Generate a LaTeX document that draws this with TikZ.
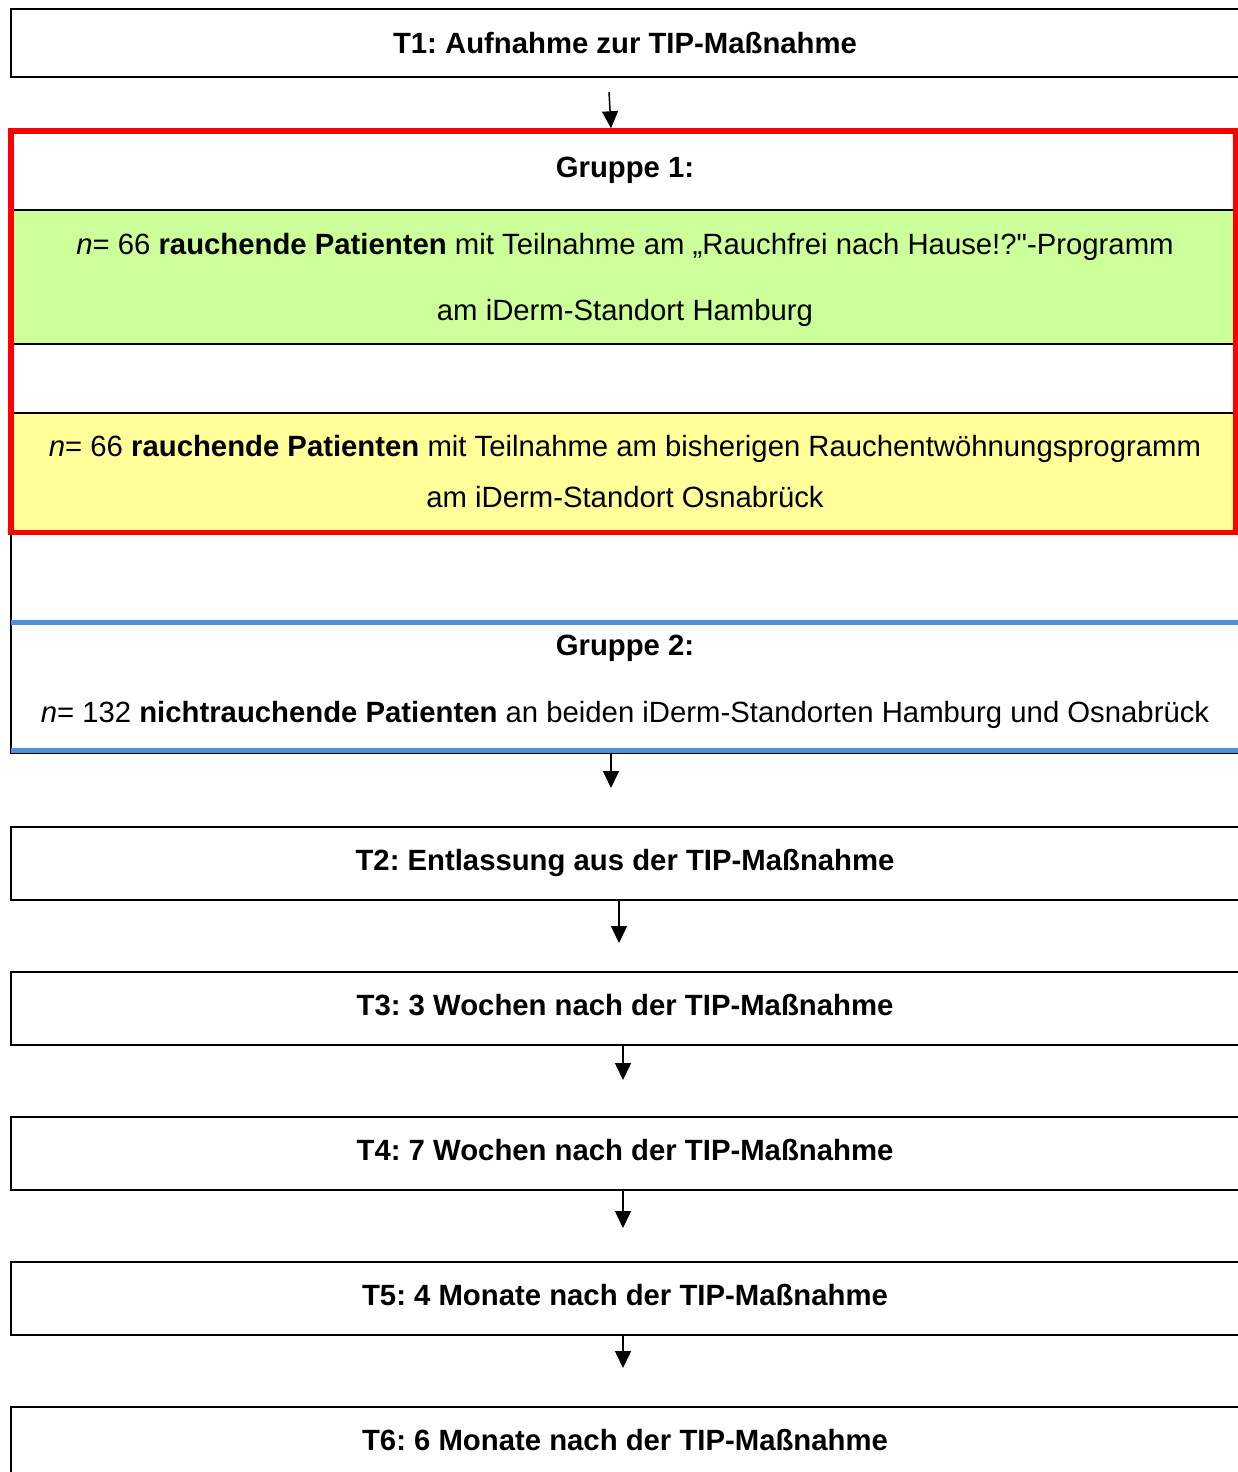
\documentclass[tikz,border=0pt]{standalone}
\usepackage{fontspec}
\setmainfont{Liberation Sans}
\usetikzlibrary{arrows.meta}
\definecolor{smokegreen}{RGB}{204,255,153}
\definecolor{smokeyellow}{RGB}{255,255,153}
\definecolor{groupblue}{RGB}{85,142,213}
\frenchspacing

\begin{document}
\begin{tikzpicture}[x=1pt, y=-1pt,
  every node/.style={font=\fontsize{29.3pt}{35pt}\selectfont, text height=21pt, text depth=0pt, inner sep=0pt},
  stage/.style={draw, line width=2pt, minimum width=1228pt, minimum height=73pt, text height=14pt, font=\fontsize{29.3pt}{35pt}\selectfont\bfseries},
  flow/.style={-{Triangle[length=17pt, width=16pt]}, line width=1.5pt},
  sep/.style={line width=1.3pt},
  blueline/.style={groupblue, line width=5pt}]
\useasboundingbox (0,0) rectangle (1238,1472);
\clip (0,0) rectangle (1238,1472);

\node[stage, minimum height=68pt, text height=21pt] (T1) at (625,43) {T1: Aufnahme zur TIP-Maßnahme};

% Gruppe 1
\fill[smokegreen] (11,210) rectangle (1236,344);
\fill[smokeyellow] (11,413) rectangle (1236,532);
\draw[sep] (11,210) -- (1236,210) (11,344) -- (1236,344) (11,413) -- (1236,413);
\node[draw=red, line width=5.5pt, minimum width=1225pt, minimum height=401.5pt] (grp1) at (623.5,331.75) {};
\node (g1head) at (625,167) {\bfseries Gruppe 1:};
\node (g1a) at (625,244) {\textit{n}= 66 \textbf{rauchende Patienten} mit Teilnahme am „Rauchfrei nach Hause!?\textquotedbl-Programm};
\node (g1b) at (625,310) {am iDerm-Standort Hamburg};
\node (g1c) at (625,446) {\textit{n}= 66 \textbf{rauchende Patienten} mit Teilnahme am bisherigen Rauchentwöhnungsprogramm};
\node (g1d) at (625,497) {am iDerm-Standort Osnabrück};

% Gruppe 2
\node[minimum width=1239pt, minimum height=218.5pt, outer sep=0pt] (grp2) at (630.5,644.25) {};
\draw[line width=1.7pt] (grp2.north west) -- (grp2.south west) -- (grp2.south east);
\draw[blueline] ([yshift=-87pt]grp2.north west) -- ([yshift=-87pt]grp2.north east);
\draw[blueline] ([yshift=3.5pt]grp2.south west) -- ([yshift=3.5pt]grp2.south east);
\node (g2head) at (625,645) {\bfseries Gruppe 2:};
\node (g2text) at (625,712) {\textit{n}= 132 \textbf{nichtrauchende Patienten} an beiden iDerm-Standorten Hamburg und Osnabrück};

\node[stage] (T2) at (625,863.5) {T2: Entlassung aus der TIP-Maßnahme};
\node[stage] (T3) at (625,1008.5) {T3: 3 Wochen nach der TIP-Maßnahme};
\node[stage] (T4) at (625,1153.5) {T4: 7 Wochen nach der TIP-Maßnahme};
\node[stage] (T5) at (625,1298.5) {T5: 4 Monate nach der TIP-Maßnahme};
\node[stage] (T6) at (625,1443.5) {T6: 6 Monate nach der TIP-Maßnahme};

\coordinate (a1) at (609,92);
\coordinate (e2) at (611,788);
\coordinate (e3) at (619,943);
\coordinate (e4) at (623,1080);
\coordinate (e5) at (623,1228);
\coordinate (e6) at (623,1368);
\draw[flow] (a1) -- ([xshift=-12.5pt]grp1.north);
\draw[flow] (e2 |- grp2.south) -- (e2);
\draw[flow] (e3 |- T2.south) -- (e3);
\draw[flow] (e4 |- T3.south) -- (e4);
\draw[flow] (e5 |- T4.south) -- (e5);
\draw[flow] (e6 |- T5.south) -- (e6);
\end{tikzpicture}
\end{document}
